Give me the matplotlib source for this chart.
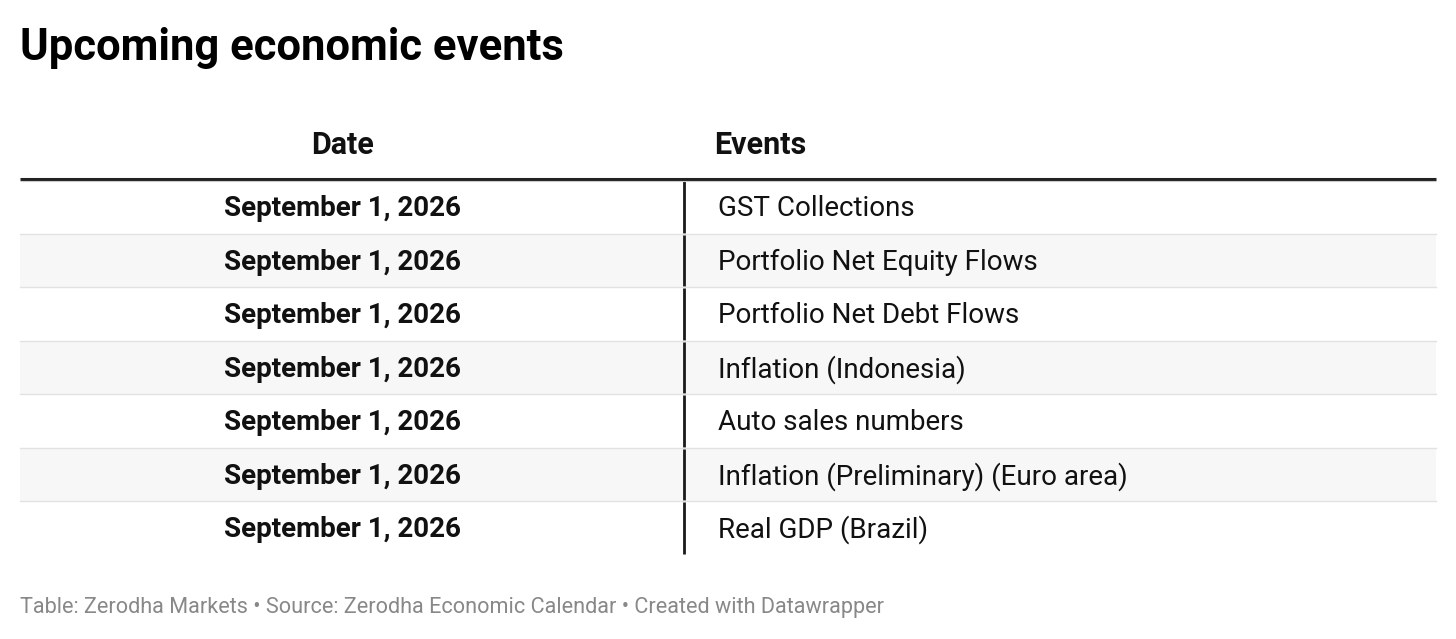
import matplotlib
matplotlib.use("Agg")
import matplotlib.pyplot as plt

dates = ["September 1, 2026"] * 7
events = [
    "GST Collections",
    "Portfolio Net Equity Flows",
    "Portfolio Net Debt Flows",
    "Inflation (Indonesia)",
    "Auto sales numbers",
    "Inflation (Preliminary) (Euro area)",
    "Real GDP (Brazil)",
]
headers = ["Date", "Events"]
title = "Upcoming economic events"
footer = "Table: Zerodha Markets \u2022 Source: Zerodha Economic Calendar \u2022 Created with Datawrapper"

W, H = 1456, 639
fig = plt.figure(figsize=(W / 100, H / 100), dpi=100)
ax = fig.add_axes([0, 0, 1, 1])
ax.set_xlim(0, W)
ax.set_ylim(H, 0)
ax.axis("off")

font = "Roboto"
left, right = 20, 1436
sep_x = 684
top = 180
row_h = 53.5

ax.text(left, 48, title, fontsize=31.4, fontweight="bold", family=font,
        va="center", ha="left", color="#000000")

ax.text(343, 145, headers[0], fontsize=22, fontweight="bold", family=font,
        va="center", ha="center", color="#111111")
ax.text(714, 145, headers[1], fontsize=22, fontweight="bold", family=font,
        va="center", ha="left", color="#111111")

for i, (d, e) in enumerate(zip(dates, events)):
    y0 = top + i * row_h
    if i % 2 == 1:
        ax.fill_between([left, right], y0, y0 + row_h, color="#f7f7f7", lw=0)
    if i > 0:
        ax.plot([left, right], [y0, y0], color="#e2e2e2", lw=1)
    yc = y0 + row_h / 2 + 2
    ax.text(343, yc, d, fontsize=20, fontweight="bold", family=font,
            va="center", ha="center", color="#111111")
    ax.text(718, yc, e, fontsize=20, family=font,
            va="center", ha="left", color="#111111")
    ax.plot([sep_x, sep_x], [y0 + 1, y0 + row_h - 1], color="#1a1a1a", lw=2.0,
            solid_capstyle="butt")

ax.plot([left, right], [178.5, 178.5], color="#222222", lw=2.2, solid_capstyle="butt")
ax.plot([left, right], [181, 181], color="#cccccc", lw=0.8, solid_capstyle="butt")

ax.text(left, 608, footer, fontsize=15.6, family=font, va="center", ha="left",
        color="#888888")

fig.savefig("out.png", dpi=100)
